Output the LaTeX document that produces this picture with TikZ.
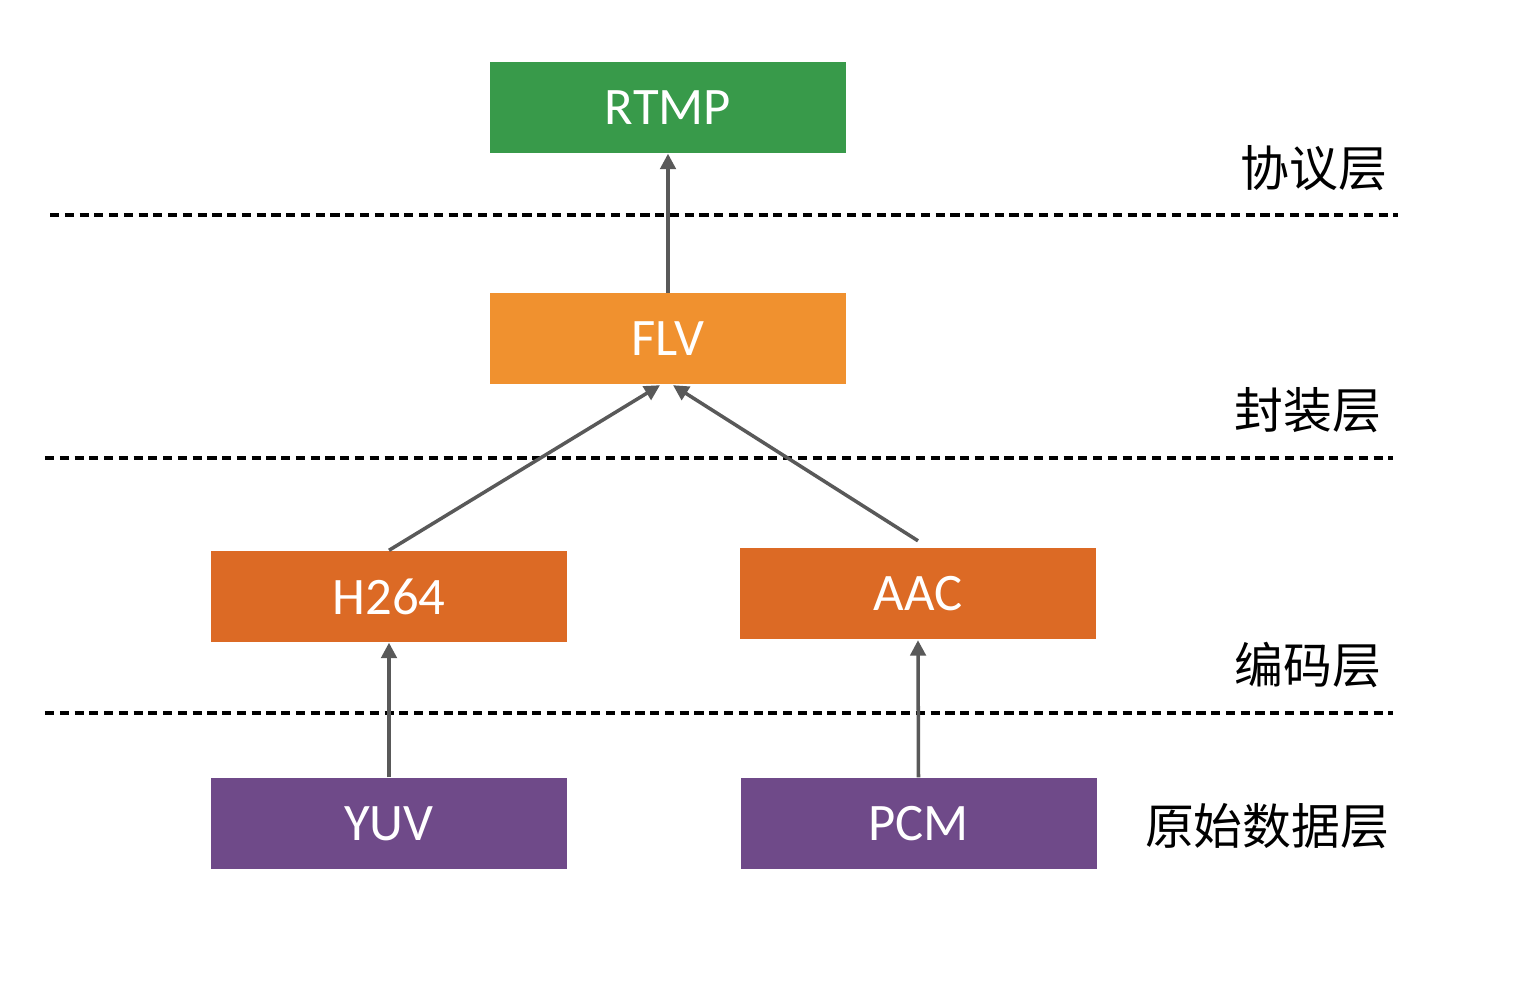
\documentclass[tikz,border=0pt]{standalone}
\usepackage{fontspec}
\setmainfont{Carlito}
\newfontfamily\cjk{Noto Sans CJK SC}
\usetikzlibrary{calc,arrows.meta}

\definecolor{protogreen}{HTML}{389A4A}
\definecolor{muxorange}{HTML}{F0912F}
\definecolor{codecorange}{HTML}{DC6A25}
\definecolor{rawpurple}{HTML}{6F4A89}
\definecolor{arrowgray}{HTML}{595959}

\tikzset{
  layerbox/.style={minimum width=3.56cm, minimum height=0.91cm, inner sep=0pt,
    text=white, font=\fontsize{15}{15}\selectfont},
  layername/.style={anchor=east, inner sep=0pt, font=\cjk\fontsize{13.9}{13.9}\selectfont},
  layersep/.style={dash pattern=on 2.6pt off 1.6pt, line width=1.1pt},
  flow/.style={draw=arrowgray, line width=1pt, -{Triangle[length=4.4pt,width=4.4pt]}}
}

\begin{document}
\begin{tikzpicture}
    \useasboundingbox (0, 0) rectangle (15.2, 10.04);

    \node[layerbox, fill=protogreen] (rtmp) at (6.68, 8.965) {RTMP};
    \node[layerbox, fill=muxorange] (flv) at (6.68, 6.65) {FLV};
    \node[layerbox, fill=codecorange] (h264) at (3.89, 4.075) {H264};
    \node[layerbox, fill=codecorange] (aac) at (9.18, 4.10) {AAC};
    \node[layerbox, fill=rawpurple] (yuv) at (3.89, 1.805) {YUV};
    \node[layerbox, fill=rawpurple] (pcm) at (9.185, 1.805) {PCM};

    \coordinate (S1a) at (0.50, 7.89);
    \coordinate (S1b) at (13.98, 7.89);
    \coordinate (S2a) at (0.45, 5.46);
    \coordinate (S2b) at (13.93, 5.46);
    \coordinate (S3a) at (0.45, 2.91);
    \coordinate (S3b) at (13.93, 2.91);
    \draw[layersep] (S1a) -- (S1b);
    \draw[layersep] (S2a) -- (S2b);
    \draw[layersep] (S3a) -- (S3b);

    \node[layername] (protocol) at (13.88, 8.36) {协议层};
    \node[layername] (mux) at (13.82, 5.94) {封装层};
    \node[layername] (codec) at (13.82, 3.39) {编码层};
    \node[layername] (raw) at (13.90, 1.78) {原始数据层};

    \draw[flow] (flv.north) -- (rtmp.south);
    \draw[flow] (h264.north) -- ([xshift=-0.08cm]flv.south);
    \draw[flow] ([yshift=0.07cm]aac.north) -- ([xshift=0.05cm]flv.south);
    \draw[flow] (yuv.north) -- (h264.south);
    \draw[flow] (pcm.north) -- (aac.south);

  \end{tikzpicture}
\end{document}
